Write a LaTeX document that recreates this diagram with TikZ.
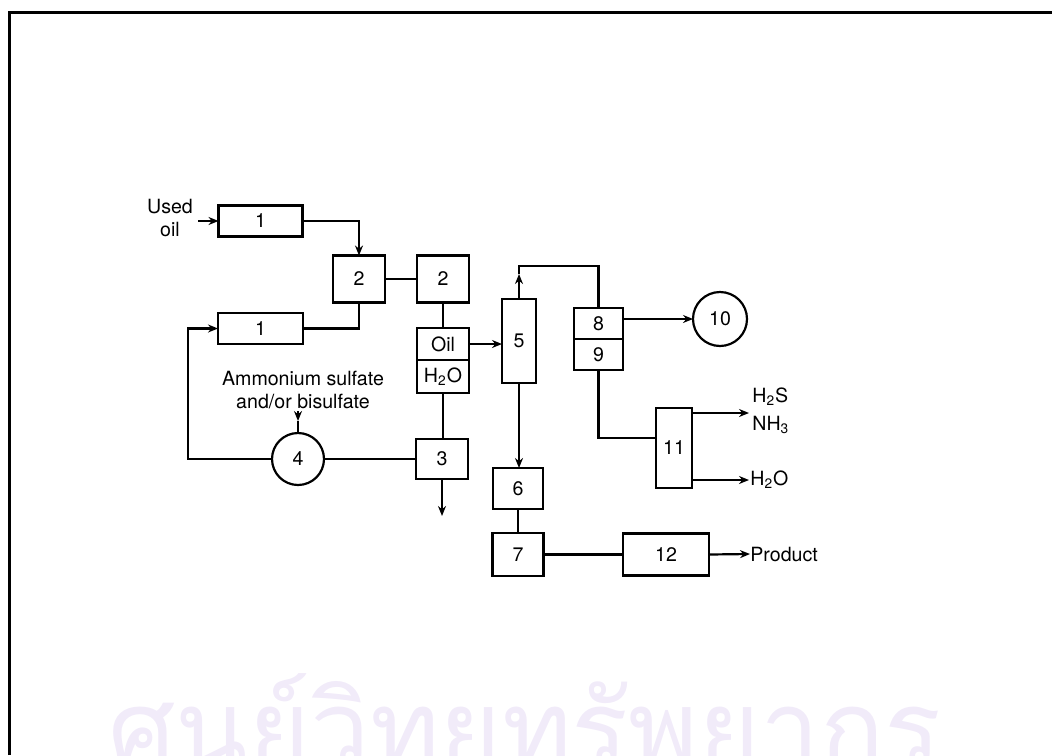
\documentclass[tikz,border=0pt]{standalone}
\usepackage{fontspec}
\setmainfont{TeX Gyre Heros}
\newfontfamily\thaifont[Script=Thai]{Loma}
\usetikzlibrary{arrows.meta, positioning, calc}

\tikzset{
  unit/.style={draw, line width=1.1pt, inner sep=0pt, outer sep=0pt, font=\fontsize{9.8}{11}\selectfont},
  tank/.style={unit, circle},
  label/.style={inner sep=0pt, font=\fontsize{9.8}{11.5}\selectfont},
  pipe/.style={line width=1.1pt},
  flow/.style={pipe, -{Stealth[length=5pt, width=4pt]}}
}

\begin{document}
\begin{tikzpicture}[x=0.5pt, y=-0.5pt]
  \useasboundingbox (0,0) rectangle (1052,755);

  % watermark
  \node[text=red!30!blue!8, font=\thaifont\fontsize{53}{53}\selectfont, anchor=base] (mark) at (525,766) {ศูนย์วิทยทรัพยากร};

  % frame
  \draw[line width=1.5pt] (9,755) -- (9,12) -- (1052,12);

  % pretreatment
  \node[label, align=center] (usedtxt) at (170,218) {Used\\oil};
  \node[unit, minimum width=42pt, minimum height=15.5pt] (feed1) at (260.5,221) {1};
  \node[unit, minimum width=42.5pt, minimum height=15.5pt] (rec1) at (260.5,328.5) {1};
  \node[unit, minimum width=26pt, minimum height=23.5pt] (mixA) at (359,279) {2};
  \node[unit, minimum width=26pt, minimum height=23.5pt] (mixB) at (443,279) {2};
  \node[unit, minimum width=26pt, minimum height=16pt] (oil) at (443,344) {Oil};
  \node[unit, minimum width=26pt, minimum height=16.5pt, below=0pt of oil] (water) {H\textsubscript{2}O};
  \node[unit, minimum width=26pt, minimum height=20pt] (sep3) at (442,459) {3};
  \node[tank, minimum size=26pt] (tank4) at (298,459) {4};
  \node[label, align=center] (salttxt) at (303,390) {Ammonium sulfate\\and/or bisulfate};

  % hydrotreating
  \node[unit, minimum width=17pt, minimum height=42pt] (col5) at (519,341) {5};
  \node[unit, minimum width=24.5pt, minimum height=15.5pt] (b8) at (598.5,323.5) {8};
  \node[unit, minimum width=24.5pt, minimum height=15.5pt, below=0pt of b8] (b9) {9};
  \node[tank, minimum size=27pt] (tank10) at (720,319) {10};
  \node[unit, minimum width=18pt, minimum height=40pt] (b11) at (674,448) {11};
  \node[unit, minimum width=25pt, minimum height=20.5pt] (b6) at (518,488.5) {6};
  \node[unit, minimum width=25.5pt, minimum height=21.5pt] (b7) at (518,554.5) {7};
  \node[unit, minimum width=43pt, minimum height=21pt] (b12) at (666,554.5) {12};

  % outlet texts
  \node[label, anchor=west] (h2s) at (752,397) {H\textsubscript{2}S};
  \node[label, anchor=west] (nh3) at (752,425) {NH\textsubscript{3}};
  \node[label, anchor=west] (h2o) at (750,480) {H\textsubscript{2}O};
  \node[label, anchor=west] (prod) at (750,554) {Product};

  % points
  \coordinate (loop) at (188,459);
  \coordinate (feed) at (298,421);
  \coordinate (drain) at (442,516);
  \coordinate (up5) at (519,274);
  \coordinate (top5) at (519,266);
  \coordinate (in11) at (656,438);
  \coordinate (gas) at (749,413);
  \coordinate (wat) at (749,480);

  % lines
  \draw[flow] (usedtxt.east |- feed1.west) ++(5,0) -- (feed1.west);
  \draw[flow] (feed1.east) -| (mixA.north);
  \draw[pipe] (mixA.east) -- (mixB.west);
  \draw[pipe] (mixA.south) |- (rec1.east);
  \draw[flow] (tank4.west) -- (loop) |- (rec1.west);
  \draw[pipe] (mixB.south) -- (oil.north);
  \draw[pipe] (water.south) -- (water.south |- sep3.north);
  \draw[pipe] (tank4.east) -- (tank4.east -| sep3.west);
  \draw[flow] (sep3.south) -- (drain);
  \draw[flow] (salttxt.south -| feed) ++(0,2) -- (feed);
  \draw[pipe] (feed) -- (tank4.north);
  \draw[flow] (oil.east) -- (oil.east -| col5.west);
  \draw[flow] (col5.north) -- (up5);
  \draw[pipe] (up5) -- (top5) -| (b8.north);
  \draw[flow] (b8.east |- tank10.west) -- (tank10.west);
  \draw[pipe] (b9.south) |- (in11);
  \draw[flow] (gas -| b11.east) -- (gas);
  \draw[flow] (wat -| b11.east) -- (wat);
  \draw[flow] (col5.south) -- (col5.south |- b6.north);
  \draw[pipe] (b6.south) -- (b7.north);
  \draw[pipe] (b7.east) -- (b12.west);
  \draw[flow] (b12.east) -- (prod.west);
\end{tikzpicture}
\end{document}
